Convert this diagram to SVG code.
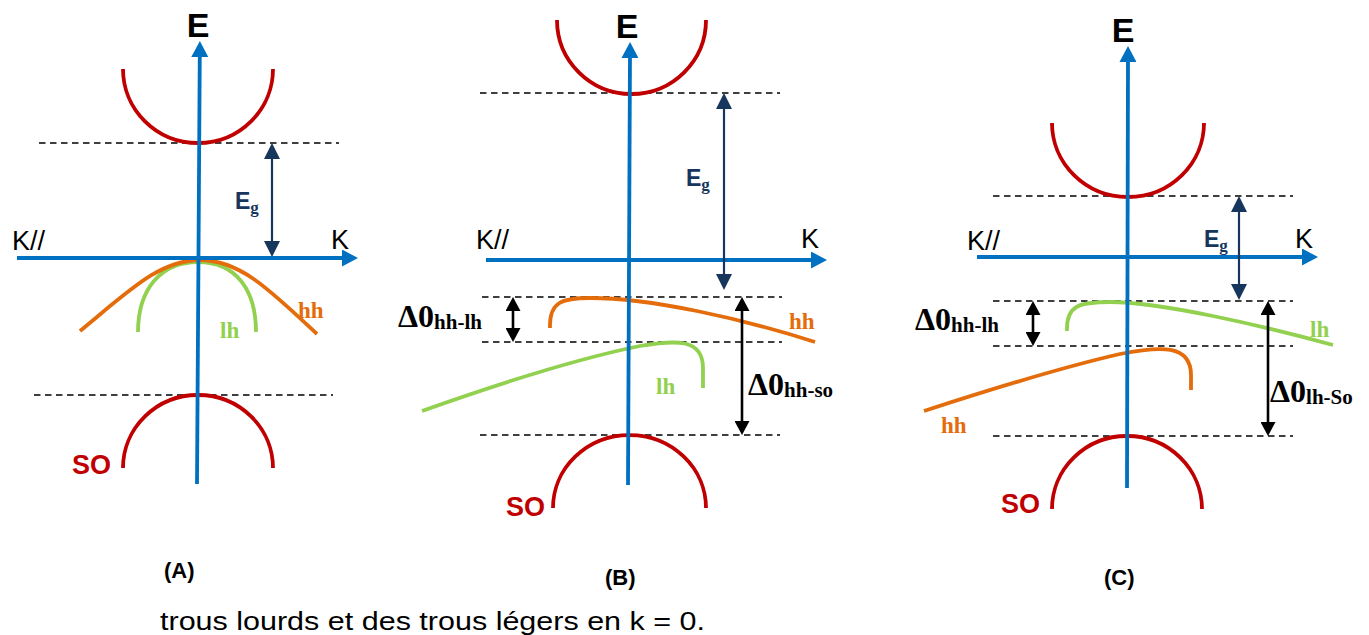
<svg xmlns="http://www.w3.org/2000/svg" width="1369" height="635" viewBox="0 0 1369 635">
<style>
.axis{stroke:#0070C0;stroke-width:3.8;fill:none}
.dash{stroke:#000;stroke-width:1.6;stroke-dasharray:6.5,4.5;fill:none}
.band{stroke:#C00000;stroke-width:3.8;fill:none}
.hhc{stroke:#E46C0A;stroke-width:3.8;fill:none}
.lhc{stroke:#92D050;stroke-width:3.8;fill:none}
.eg{stroke:#17365D;stroke-width:2.2;fill:none}
.dl{stroke:#000;stroke-width:2.6;fill:none}
.sans{font-family:"Liberation Sans",Arial,sans-serif}
.axl{font-family:"Liberation Sans",Arial,sans-serif;font-size:27px;fill:#000}
.bigE{font-family:"Liberation Sans",Arial,sans-serif;font-size:34px;font-weight:bold;fill:#000}
.so{font-family:"Liberation Sans",Arial,sans-serif;font-size:27px;font-weight:bold;fill:#C00000}
.hht{font-family:"Liberation Serif","Times New Roman",serif;font-size:23px;font-weight:bold;fill:#E46C0A}
.lht{font-family:"Liberation Serif","Times New Roman",serif;font-size:23px;font-weight:bold;fill:#92D050}
.egE{font-family:"Liberation Sans",Arial,sans-serif;font-size:23px;font-weight:bold;fill:#17365D}
.egg{font-family:"Liberation Serif","Times New Roman",serif;font-size:17px;font-weight:bold;fill:#17365D}
.dlt{font-family:"Liberation Serif","Times New Roman",serif;font-size:32px;font-weight:bold;fill:#000}
.dls{font-family:"Liberation Serif","Times New Roman",serif;font-size:21px;font-weight:bold;fill:#000}
.cap{font-family:"Liberation Sans",Arial,sans-serif;font-size:22px;font-weight:bold;fill:#000}
</style>
<defs>
<marker id="ab" markerUnits="userSpaceOnUse" markerWidth="16" markerHeight="17" refX="5" refY="8.5" orient="auto" viewBox="0 0 16 17"><path d="M0,0 L16,8.5 L0,17 Z" fill="#0070C0"/></marker>
<marker id="an" markerUnits="userSpaceOnUse" markerWidth="16" markerHeight="16" refX="6" refY="8" orient="auto-start-reverse" viewBox="0 0 16 16"><path d="M0,0 L16,8 L0,16 Z" fill="#17365D"/></marker>
<marker id="ak" markerUnits="userSpaceOnUse" markerWidth="14" markerHeight="15" refX="5" refY="7.5" orient="auto-start-reverse" viewBox="0 0 14 15"><path d="M0,0 L14,7.5 L0,15 Z" fill="#000"/></marker>
</defs>

<g id="panelA">
  <g id="A-levels">
    <line class="dash" x1="39" y1="143" x2="339" y2="143"/>
    <line class="dash" x1="34" y1="395" x2="333" y2="395"/>
  </g>
  <g id="A-bands">
    <path class="band" d="M123,69 A75,74 0 0 0 273,69"/>
    <path class="band" d="M123,468 A75,73 0 0 1 273,468"/>
    <path class="lhc" d="M138,332 C138,290 160,262 198,262 C236,262 256,290 256,332"/>
    <path class="hhc" d="M80,331 C130,290 160,260 200,260 C240,260 270,290 317,334"/>
  </g>
  <g id="A-axes">
    <line class="axis" x1="197" y1="484" x2="199.8" y2="52" marker-end="url(#ab)"/>
    <line class="axis" x1="17" y1="258" x2="347" y2="258" marker-end="url(#ab)"/>
  </g>
  <g id="A-labels">
    <text class="bigE" x="198" y="37" text-anchor="middle">E</text>
    <text class="axl" x="12" y="250">K//</text>
    <text class="axl" x="331" y="249">K</text>
    <text x="235" y="209"><tspan class="egE">E</tspan><tspan class="egg" dy="4">g</tspan></text>
    <text class="hht" x="298" y="318">hh</text>
    <text class="lht" x="220" y="338">lh</text>
    <text class="so" x="72" y="474">SO</text>
    <text class="cap" x="164" y="578">(A)</text>
  </g>
</g>

<g id="panelB">
  <g id="B-levels">
    <line class="dash" x1="480" y1="93" x2="780" y2="93"/>
    <line class="dash" x1="482" y1="297" x2="782" y2="297"/>
    <line class="dash" x1="482" y1="342" x2="782" y2="342"/>
    <line class="dash" x1="480" y1="435" x2="780" y2="435"/>
  </g>
  <g id="B-bands">
    <path class="band" d="M557,20 A74.5,74 0 0 0 706,20"/>
    <path class="band" d="M553,508 A76.5,73 0 0 1 706,508"/>
    <path class="hhc" d="M550,328 C549,302 562,298 590,298 C650,298 740,318 815,342"/>
    <path class="lhc" d="M422,411 Q560,362 640,346 C675,340 703,338 703,368 L703,388"/>
  </g>
  <g id="B-axes">
    <line class="axis" x1="628" y1="485" x2="630" y2="53" marker-end="url(#ab)"/>
    <line class="axis" x1="486" y1="260" x2="816" y2="260" marker-end="url(#ab)"/>
  </g>
  <g id="B-labels">
    <text class="bigE" x="627" y="38" text-anchor="middle">E</text>
    <text class="axl" x="476" y="249">K//</text>
    <text class="axl" x="801" y="248">K</text>
    <text x="686" y="186"><tspan class="egE">E</tspan><tspan class="egg" dy="4">g</tspan></text>
    <text class="hht" x="789" y="329">hh</text>
    <text class="lht" x="656" y="394">lh</text>
    <text class="so" x="506" y="516">SO</text>
    <text x="398" y="327"><tspan class="dlt">Δ0</tspan><tspan class="dls" dy="2">hh-lh</tspan></text>
    <text x="748" y="395"><tspan class="dlt">Δ0</tspan><tspan class="dls" dy="2">hh-so</tspan></text>
    <text class="cap" x="605" y="585">(B)</text>
  </g>
</g>

<g id="panelC">
  <g id="C-levels">
    <line class="dash" x1="993" y1="196" x2="1293" y2="196"/>
    <line class="dash" x1="993" y1="301" x2="1293" y2="301"/>
    <line class="dash" x1="993" y1="346" x2="1293" y2="346"/>
    <line class="dash" x1="993" y1="436" x2="1293" y2="436"/>
  </g>
  <g id="C-bands">
    <path class="band" d="M1052,123 A76,74 0 0 0 1204,123"/>
    <path class="band" d="M1052,509 A75,73 0 0 1 1202,509"/>
    <path class="lhc" d="M1067,331 C1066,305 1080,302 1110,302 C1160,302 1260,325 1333,345"/>
    <path class="hhc" d="M924,411 Q1050,370 1120,354 C1160,346 1191,344 1191,375 L1191,390"/>
  </g>
  <g id="C-axes">
    <line class="axis" x1="1127" y1="488" x2="1128" y2="57" marker-end="url(#ab)"/>
    <line class="axis" x1="977" y1="257" x2="1307" y2="257" marker-end="url(#ab)"/>
  </g>
  <g id="C-labels">
    <text class="bigE" x="1123" y="42" text-anchor="middle">E</text>
    <text class="axl" x="967" y="250">K//</text>
    <text class="axl" x="1295" y="248">K</text>
    <text x="1204" y="247"><tspan class="egE">E</tspan><tspan class="egg" dy="4">g</tspan></text>
    <text class="lht" x="1310" y="337">lh</text>
    <text class="hht" x="941" y="433">hh</text>
    <text class="so" x="1001" y="513">SO</text>
    <text x="915" y="330"><tspan class="dlt">Δ0</tspan><tspan class="dls" dy="2">hh-lh</tspan></text>
    <text x="1270" y="402"><tspan class="dlt">Δ0</tspan><tspan class="dls" dy="2">lh-So</tspan></text>
    <text class="cap" x="1104" y="585">(C)</text>
  </g>
</g>

<g id="connectors">
  <line class="eg" x1="272" y1="153" x2="272" y2="247" marker-start="url(#an)" marker-end="url(#an)"/>
  <line class="eg" x1="724" y1="103" x2="724" y2="280" marker-start="url(#an)" marker-end="url(#an)"/>
  <line class="eg" x1="1239" y1="206" x2="1239" y2="290" marker-start="url(#an)" marker-end="url(#an)"/>
  <line class="dl" x1="513" y1="306" x2="513" y2="333" marker-start="url(#ak)" marker-end="url(#ak)"/>
  <line class="dl" x1="742" y1="306" x2="742" y2="426" marker-start="url(#ak)" marker-end="url(#ak)"/>
  <line class="dl" x1="1033" y1="310" x2="1033" y2="337" marker-start="url(#ak)" marker-end="url(#ak)"/>
  <line class="dl" x1="1268" y1="310" x2="1268" y2="427" marker-start="url(#ak)" marker-end="url(#ak)"/>
</g>

<text class="sans" x="160" y="630" font-size="26" textLength="545" lengthAdjust="spacingAndGlyphs" fill="#000">trous lourds et des trous légers en k = 0.</text>
</svg>
